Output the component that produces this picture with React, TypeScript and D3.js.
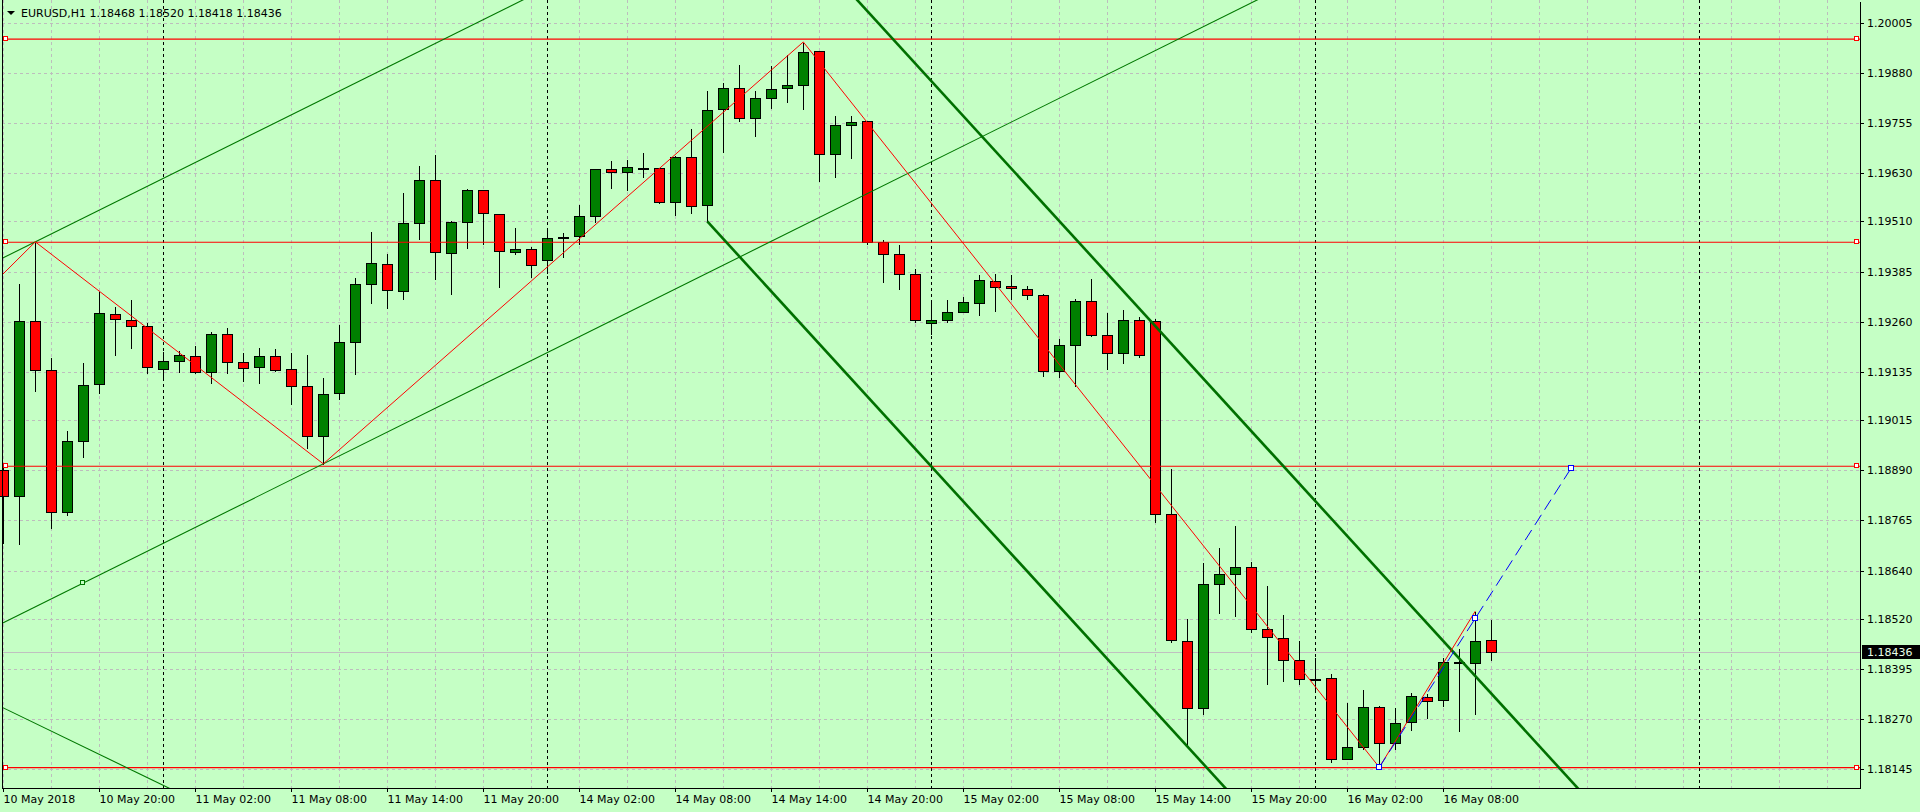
import React from 'react';
import * as d3 from 'd3';

const W = 1920;
const H = 812;

// OHLC for H1 bars, index 0 = 10 May 2018 14:00
const openP = [1.18891,1.18826,1.19261,1.19139,1.18785,1.18962,1.19104,1.19279,1.19264,1.19249,
1.19142,1.19161,1.19174,1.19134,1.19229,1.19159,1.19147,1.19174,1.19142,1.19099,
1.18975,1.19082,1.19209,1.19353,1.19403,1.19336,1.19505,1.19612,1.19431,1.19508,
1.19588,1.19528,1.19433,1.19441,1.19413,1.19472,1.19473,1.19523,1.19640,1.19632,
1.19644,1.19642,1.19559,1.19670,1.19550,1.19789,1.19842,1.19767,1.19817,1.19842,
1.19849,1.19934,1.19677,1.19749,1.19759,1.19458,1.19428,1.19378,1.19256,1.19264,
1.19284,1.19306,1.19361,1.19348,1.19341,1.19326,1.19137,1.19201,1.19311,1.19226,
1.19181,1.19264,1.19262,1.18781,1.18464,1.18297,1.18606,1.18631,1.18648,1.18494,
1.18471,1.18417,1.18371,1.18372,1.18170,1.18200,1.18299,1.18210,1.18262,1.18324,
1.18317,1.18412,1.18409,1.18468];
const highP = [1.18901,1.19356,1.19459,1.19171,1.18990,1.19160,1.19337,1.19299,1.19317,1.19259,
1.19188,1.19189,1.19202,1.19236,1.19247,1.19185,1.19197,1.19195,1.19185,1.19180,
1.19122,1.19254,1.19372,1.19486,1.19431,1.19583,1.19651,1.19678,1.19513,1.19593,
1.19590,1.19528,1.19496,1.19448,1.19488,1.19484,1.19553,1.19640,1.19663,1.19666,
1.19683,1.19643,1.19675,1.19743,1.19837,1.19857,1.19902,1.19837,1.19900,1.19927,
1.19957,1.19934,1.19774,1.19774,1.19760,1.19465,1.19453,1.19393,1.19308,1.19316,
1.19323,1.19380,1.19382,1.19380,1.19351,1.19331,1.19219,1.19318,1.19368,1.19284,
1.19291,1.19274,1.19269,1.18895,1.18521,1.18661,1.18698,1.18753,1.18663,1.18603,
1.18531,1.18466,1.18426,1.18384,1.18312,1.18344,1.18304,1.18299,1.18337,1.18334,
1.18426,1.18446,1.18539,1.18520];
const lowP = [1.18709,1.18706,1.19088,1.18747,1.18778,1.18922,1.19083,1.19178,1.19195,1.19133,
1.19123,1.19136,1.19132,1.19108,1.19133,1.19112,1.19108,1.19137,1.19055,1.18945,
1.18906,1.19067,1.19129,1.19306,1.19295,1.19316,1.19465,1.19366,1.19328,1.19443,
1.19453,1.19346,1.19428,1.19371,1.19381,1.19421,1.19453,1.19508,1.19592,1.19588,
1.19621,1.19557,1.19527,1.19532,1.19510,1.19683,1.19759,1.19723,1.19793,1.19808,
1.19789,1.19611,1.19621,1.19669,1.19453,1.19358,1.19341,1.19259,1.19229,1.19259,
1.19284,1.19276,1.19286,1.19316,1.19316,1.19124,1.19122,1.19099,1.19224,1.19142,
1.19156,1.19171,1.18760,1.18463,1.18201,1.18282,1.18534,1.18526,1.18486,1.18357,
1.18366,1.18357,1.18344,1.18162,1.18170,1.18195,1.18150,1.18195,1.18242,1.18274,
1.18302,1.18240,1.18284,1.18418];
const closeP = [1.18826,1.19261,1.19139,1.18785,1.18962,1.19102,1.19281,1.19266,1.19249,1.19147,
1.19161,1.19176,1.19134,1.19229,1.19159,1.19144,1.19174,1.19139,1.19099,1.18975,
1.19079,1.19209,1.19353,1.19406,1.19338,1.19505,1.19612,1.19433,1.19508,1.19588,
1.19530,1.19436,1.19441,1.19401,1.19468,1.19472,1.19523,1.19640,1.19632,1.19645,
1.19644,1.19559,1.19670,1.19548,1.19787,1.19842,1.19767,1.19817,1.19839,1.19849,
1.19931,1.19677,1.19749,1.19757,1.19458,1.19428,1.19378,1.19264,1.19264,1.19284,
1.19308,1.19363,1.19346,1.19343,1.19326,1.19137,1.19201,1.19311,1.19226,1.19181,
1.19264,1.19176,1.18781,1.18466,1.18297,1.18606,1.18631,1.18648,1.18494,1.18474,
1.18417,1.18369,1.18371,1.18170,1.18200,1.18299,1.18210,1.18260,1.18327,1.18314,
1.18412,1.18412,1.18465,1.18436];

const xTickIdx = [0,6,12,18,24,30,36,42,48,54,60,66,72,78,84,90];
const xTickLabels = ["10 May 2018","10 May 20:00","11 May 02:00","11 May 08:00","11 May 14:00","11 May 20:00",
"14 May 02:00","14 May 08:00","14 May 14:00","14 May 20:00","15 May 02:00","15 May 08:00",
"15 May 14:00","15 May 20:00","16 May 02:00","16 May 08:00"];
const yTickLabels = ["1.20005","1.19880","1.19755","1.19630","1.19510","1.19385","1.19260","1.19135",
"1.19015","1.18890","1.18765","1.18640","1.18520","1.18395","1.18270","1.18145"];
const separatorIdx = [10,34,58,82,106];

const headerText = "EURUSD,H1  1.18468 1.18520 1.18418 1.18436";
const lastPrice = 1.18436;
const lastPriceLabel = "1.18436";

const hLevels = [1.19964,1.19458,1.18900,1.18149];
const zigzagIdx = [-1,2,20,50,86,92];
const zigzagPrice = [1.19340,1.19459,1.18906,1.19957,1.18150,1.18539];
const blueIdx = [86,92,98];
const bluePrice = [1.18150,1.18521,1.18896];

// channel / trend lines as anchor pairs (bar index, price)
const thinLines = [
  { i1: 2, p1: 1.19459, i2: 20, p2: 1.19815, ray: false },
  { i1: 20, p1: 1.18906, i2: 50, p2: 1.19500, ray: false },
  { i1: 0, p1: 1.18298, i2: 10, p2: 1.18105, ray: false },
];
const thickLines = [
  { i1: 44, p1: 1.19510, i2: 74, p2: 1.18202, ray: true },
  { i1: 59, p1: 1.19816, i2: 89, p2: 1.18508, ray: false },
];
const channelMarkIdx = 5;
const channelMarkPrice = 1.18608;

const BG = '#c5ffc5';
const GRID = '#bdbdbd';
const BULL = '#008000';
const BEAR = '#ff0000';
const FONT = 'DejaVu Sans';

const PL = 2, PR = 1860, PT = 0, PB = 788;

export default function App() {
  const x = d3.scaleLinear().domain([0, 93]).range([3.3, 3.3 + 16 * 93]);
  const y = d3.scaleLinear().domain([1.18145, 1.20005]).range([769.3, 22.7]);
  const cx = (i: number) => Math.round(x(i)) + 0.5;
  const cy = (p: number) => Math.round(y(p)) + 0.5;

  const vGrid: number[] = [];
  for (let i = 0; x(i) < PR; i += 3) vGrid.push(cx(i));

  const extLine = (l: any) => {
    const slope = (y(l.p2) - y(l.p1)) / (x(l.i2) - x(l.i1));
    const xa = l.ray ? x(l.i1) : -200;
    const xb = 2200;
    return [xa, y(l.p1) + (xa - x(l.i1)) * slope, xb, y(l.p1) + (xb - x(l.i1)) * slope];
  };

  const zz = d3.line<number>().x((_, k) => x(zigzagIdx[k])).y((d) => y(d));
  const bl = d3.line<number>().x((_, k) => x(blueIdx[k])).y((d) => y(d));

  return (
    <svg width={W} height={H} style={{ position: 'fixed', left: 0, top: 0, display: 'block' }}
      fontFamily={FONT} fontSize={11}>
      <defs>
        <clipPath id="plot"><rect x={PL} y={PT} width={PR - PL} height={PB - PT} /></clipPath>
      </defs>
      <rect x={0} y={0} width={W} height={H} fill={BG} />

      {/* grid */}
      <g shapeRendering="crispEdges">
        {yTickLabels.map((t) => (
          <line key={'hg' + t} x1={PL} x2={PR} y1={cy(+t)} y2={cy(+t)} stroke={GRID} strokeDasharray="3,3" />
        ))}
        {vGrid.map((gx) => (
          <line key={'vg' + gx} x1={gx} x2={gx} y1={PT} y2={PB} stroke={GRID} strokeDasharray="3,3" />
        ))}
        {separatorIdx.filter((i) => x(i) < PR).map((i) => (
          <line key={'sep' + i} x1={cx(i)} x2={cx(i)} y1={PT} y2={PB} stroke="#000" strokeDasharray="3,3" />
        ))}
        <line x1={PL} x2={PR} y1={cy(lastPrice)} y2={cy(lastPrice)} stroke="#c0c0c0" />
      </g>

      {/* candles */}
      <g shapeRendering="crispEdges">
        {openP.map((o, i) => {
          const c = closeP[i];
          const xc = cx(i);
          const top = cy(Math.max(o, c));
          const bot = cy(Math.min(o, c));
          const doji = o === c;
          return (
            <g key={'c' + i}>
              <line x1={xc} x2={xc} y1={cy(highP[i])} y2={cy(lowP[i])} stroke="#000" />
              {doji ? (
                <rect x={xc - 5.5} y={top - 1} width={11} height={2} fill="#000" />
              ) : (
                <rect x={xc - 5} y={top} width={10} height={Math.max(bot - top, 1)}
                  fill={c > o ? BULL : BEAR} stroke="#000" />
              )}
            </g>
          );
        })}
      </g>

      {/* objects */}
      <g clipPath="url(#plot)">
        {hLevels.map((p) => (
          <line key={'hl' + p} x1={PL} x2={PR} y1={y(p)} y2={y(p)} stroke="#ff0000" strokeWidth={1.2} />
        ))}
        {thinLines.map((l, k) => {
          const [x1, y1, x2, y2] = extLine(l);
          return <line key={'tl' + k} x1={x1} y1={y1} x2={x2} y2={y2} stroke="#007800" strokeWidth={1.1} />;
        })}
        {thickLines.map((l, k) => {
          const [x1, y1, x2, y2] = extLine(l);
          return <line key={'tk' + k} x1={x1} y1={y1} x2={x2} y2={y2} stroke="#007000" strokeWidth={2.6} />;
        })}
        <path d={zz(zigzagPrice) || ''} fill="none" stroke="#ff0000" strokeWidth={1} />
        <path d={bl(bluePrice) || ''} fill="none" stroke="#0000ff" strokeWidth={1} strokeDasharray="12,6" />
        {hLevels.map((p) => (
          <g key={'hm' + p}>
            <rect x={3.5} y={Math.round(y(p)) - 2.5} width={4} height={4} fill="#fff" stroke="#ff0000" />
            <rect x={1854.5} y={Math.round(y(p)) - 2.5} width={4} height={4} fill="#fff" stroke="#ff0000" />
          </g>
        ))}
        {blueIdx.map((i, k) => (
          <rect key={'bm' + i} x={Math.round(x(i)) - 2.5} y={Math.round(y(bluePrice[k])) - 2.5}
            width={5} height={5} fill="#fff" stroke="#0000ff" />
        ))}
        <rect x={Math.round(x(channelMarkIdx)) - 2.5} y={Math.round(y(channelMarkPrice)) - 2.5}
          width={4} height={4} fill={BG} stroke="#007800" />
      </g>

      {/* frame */}
      <g shapeRendering="crispEdges" stroke="#000">
        <line x1={PL + 0.5} x2={PL + 0.5} y1={0} y2={PB + 0.5} />
        <line x1={PR + 0.5} x2={PR + 0.5} y1={2} y2={PB + 0.5} />
        <line x1={PL} x2={PR + 1} y1={PB + 0.5} y2={PB + 0.5} />
        {yTickLabels.map((t) => (
          <line key={'yt' + t} x1={PR} x2={PR + 4} y1={cy(+t)} y2={cy(+t)} />
        ))}
        {xTickIdx.map((i) => (
          <line key={'xt' + i} x1={cx(i)} x2={cx(i)} y1={PB} y2={PB + 4} />
        ))}
      </g>

      {/* axis labels */}
      {yTickLabels.map((t) => (
        <text key={'yl' + t} x={1867} y={y(+t) + 4} fill="#000">{t}</text>
      ))}
      {xTickIdx.map((i, k) => (
        <text key={'xl' + i} x={cx(i)} y={803} fill="#000">{xTickLabels[k]}</text>
      ))}

      {/* last price label */}
      <rect x={1862} y={Math.round(y(lastPrice)) - 7} width={58} height={14} fill="#000" />
      <text x={1867} y={y(lastPrice) + 4} fill="#e8ffe8">{lastPriceLabel}</text>

      {/* header */}
      <path d="M7,11 L15,11 L11,15 Z" fill="#000" />
      <text x={21} y={17} fill="#000">{headerText}</text>
    </svg>
  );
}
